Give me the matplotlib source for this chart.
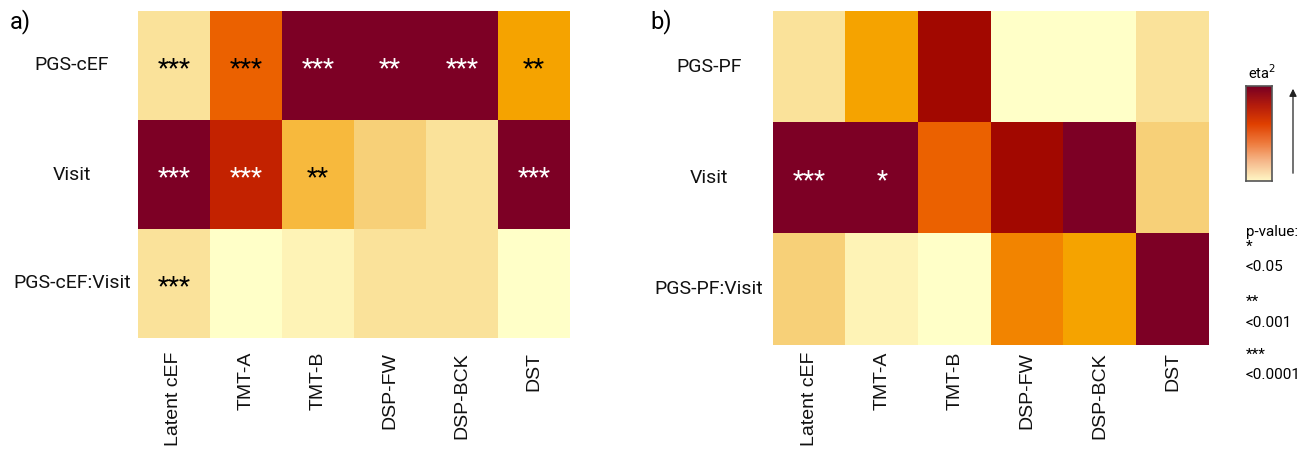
import numpy as np
import matplotlib
matplotlib.use("Agg")
import matplotlib.pyplot as plt
from matplotlib.colors import ListedColormap, LinearSegmentedColormap
from matplotlib.transforms import blended_transform_factory
from matplotlib.patches import FancyArrowPatch

plt.rcParams['font.family'] = ['Roboto', 'DejaVu Sans']

# colour levels (0 = lightest, 10 = darkest)
LEVEL_COLORS = ["#FFFFC8", "#FEF3B6", "#FAE29A", "#F7D078", "#F7B93D", "#F5A300",
                "#F28400", "#EB6100", "#C32200", "#A20800", "#7D0025"]
# gradient of the eta^2 key, bottom to top
KEY_COLORS = ["#FFF6C4", "#F6B98C", "#EE7A3C", "#E04000", "#B41C0C", "#7A0022"]

tests = ["Latent cEF", "TMT-A", "TMT-B", "DSP-FW", "DSP-BCK", "DST"]

rows_a = ["PGS-cEF", "Visit", "PGS-cEF:Visit"]
eta_a = [
    [2, 7, 10, 10, 10, 5],
    [10, 8, 4, 3, 2, 10],
    [2, 0, 1, 2, 2, 0],
]
stars_a = [
    ["***", "***", "***", "**", "***", "**"],
    ["***", "***", "**", "", "", "***"],
    ["***", "", "", "", "", ""],
]

rows_b = ["PGS-PF", "Visit", "PGS-PF:Visit"]
eta_b = [
    [2, 5, 9, 0, 0, 2],
    [10, 10, 7, 9, 10, 3],
    [3, 1, 0, 6, 5, 10],
]
stars_b = [
    ["", "", "", "", "", ""],
    ["***", "*", "", "", "", ""],
    ["", "", "", "", "", ""],
]

pvalue_legend = ["*", "<0.05", "**", "<0.001", "***", "<0.0001"]

cmap = ListedColormap(LEVEL_COLORS)
W, H = 1316, 455
fig = plt.figure(figsize=(W / 100, H / 100), dpi=100)


def px_axes(x0, y0, x1, y1):
    return fig.add_axes([x0 / W, 1 - y1 / H, (x1 - x0) / W, (y1 - y0) / H])


def draw_heat(ax, values, stars, rows, label_x, xpad):
    vals = np.array(values)
    ax.imshow(vals, cmap=cmap, vmin=-0.5, vmax=10.5, aspect="auto",
              interpolation="nearest")
    for i in range(vals.shape[0]):
        for j in range(vals.shape[1]):
            if stars[i][j]:
                col = "white" if vals[i, j] >= 8 else "black"
                ax.text(j, i + 0.03, stars[i][j], ha="center", va="center",
                        fontsize=18.5, color=col)
    ax.set_xticks(range(len(tests)))
    ax.set_xticklabels(tests, rotation=90, fontsize=14, family="Liberation Sans",
                       color="#111111")
    ax.set_yticks([])
    ax.tick_params(axis="x", length=0, pad=xpad)
    # row labels are centred in the left margin
    tr = blended_transform_factory(fig.transFigure, ax.transData)
    for i, r in enumerate(rows):
        ax.text(label_x / W, i, r, transform=tr, ha="center", va="center",
                fontsize=14, color="#111111")
    for s in ax.spines.values():
        s.set_visible(False)


ax_a = px_axes(138, 11, 570, 338)
draw_heat(ax_a, eta_a, stars_a, rows_a, 72, 10)
ax_b = px_axes(773, 11, 1209, 345)
draw_heat(ax_b, eta_b, stars_b, rows_b, 709, 5)

fig.text(10 / W, 1 - 22 / H, "a)", fontsize=17, va="center", ha="left")
fig.text(650 / W, 1 - 22 / H, "b)", fontsize=17, va="center", ha="left")

# eta^2 colour key
ax_c = px_axes(1246, 86, 1272, 181)
grad = np.linspace(1, 0, 100).reshape(-1, 1)
ax_c.imshow(grad, cmap=LinearSegmentedColormap.from_list("eta", KEY_COLORS),
            aspect="auto")
ax_c.set_xticks([])
ax_c.set_yticks([])
for s in ax_c.spines.values():
    s.set_edgecolor("#555555")
    s.set_linewidth(1.2)
fig.text(1248 / W, 1 - 73 / H, "eta$^2$", fontsize=10.5, va="center", ha="left")
fig.add_artist(FancyArrowPatch(
    (1293 / W, 1 - 176 / H), (1293 / W, 1 - 86 / H), transform=fig.transFigure,
    arrowstyle="-|>", mutation_scale=11, color="#222222", linewidth=0.9))

fig.text(1246 / W, 1 - 232 / H, "p-value:", fontsize=11, va="center", ha="left")
ys = [247, 267, 302, 323, 355, 375]
for y, t in zip(ys, pvalue_legend):
    fig.text(1246 / W, 1 - y / H, t, fontsize=11, va="center", ha="left")

fig.savefig("out.png", dpi=100)
